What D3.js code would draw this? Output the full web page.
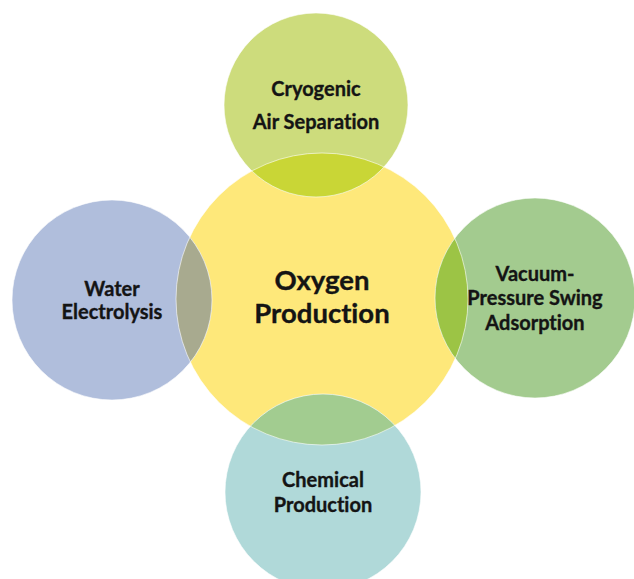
<!DOCTYPE html>
<html>
<head>
<meta charset="utf-8">
<script src="https://cdn.jsdelivr.net/npm/d3@7"></script>
<style>
  body { margin: 0; background: #fff; }
  svg { display: block; }
  .label { font-family: Lato, "Open Sans", sans-serif; font-weight: bold; fill: #141414;
           font-variant-ligatures: none; font-feature-settings: "liga" 0; }
</style>
</head>
<body>
<script>
// hub + spokes, offsets in px relative to the hub centre
var hubLabel = ["Oxygen", "Production"];
var hubRadius = 146;

var nodeLabels = [
  ["Cryogenic", "Air Separation"],
  ["Water", "Electrolysis"],
  ["Vacuum-", "Pressure Swing", "Adsorption"],
  ["Chemical", "Production"]
];
var nodeX = [-6, -210, 213, 1];
var nodeY = [-194, 1, -1, 193];
var nodeR = [92, 100, 100, 98];

var nodeFill = ["#cddc7c", "#b0bedc", "#a3cb8f", "#b0d9d9"];
var overlapFill = ["#c9d636", "#a8aa8f", "#9cc445", "#a2cc90"];
var hubFill = "#fee87a";
var lineGap = [33, 23, 24.5, 25];

var width = 634, height = 579;

var x = d3.scaleLinear().domain([-322, 312]).range([0, width]);
var y = d3.scaleLinear().domain([-299, 280]).range([0, height]);
var r = d3.scaleLinear().domain([0, 100]).range([0, 100]);

var nodes = nodeLabels.map(function (d, i) {
  return { lines: d, x: nodeX[i], y: nodeY[i], r: nodeR[i], fill: nodeFill[i], over: overlapFill[i], gap: lineGap[i] };
});

var svg = d3.select("body").append("svg")
  .attr("width", width)
  .attr("height", height);

var defs = svg.append("defs");
defs.append("clipPath").attr("id", "hubClip")
  .append("circle")
  .attr("cx", x(0)).attr("cy", y(0)).attr("r", r(hubRadius));

// hub
svg.append("circle")
  .attr("cx", x(0)).attr("cy", y(0)).attr("r", r(hubRadius))
  .attr("fill", hubFill);

// outer circles
svg.selectAll(".node")
  .data(nodes).enter()
  .append("circle")
  .attr("class", "node")
  .attr("cx", function (d) { return x(d.x); })
  .attr("cy", function (d) { return y(d.y); })
  .attr("r", function (d) { return r(d.r); })
  .attr("fill", function (d) { return d.fill; });

// overlap lenses
svg.append("g").attr("clip-path", "url(#hubClip)")
  .selectAll(".lens")
  .data(nodes).enter()
  .append("circle")
  .attr("class", "lens")
  .attr("cx", function (d) { return x(d.x); })
  .attr("cy", function (d) { return y(d.y); })
  .attr("r", function (d) { return r(d.r); })
  .attr("fill", function (d) { return d.over; });

// thin light edges
var edges = svg.append("g").attr("fill", "none")
  .attr("stroke", "#ffffff").attr("stroke-opacity", 0.6).attr("stroke-width", 1);
edges.append("circle")
  .attr("cx", x(0)).attr("cy", y(0)).attr("r", r(hubRadius));
edges.selectAll("circle.e")
  .data(nodes).enter()
  .append("circle")
  .attr("class", "e")
  .attr("cx", function (d) { return x(d.x); })
  .attr("cy", function (d) { return y(d.y); })
  .attr("r", function (d) { return r(d.r); });

function addLabel(lines, cx, cy, gap, size) {
  var t = svg.append("text")
    .attr("class", "label")
    .attr("text-anchor", "middle")
    .attr("font-size", size)
    .attr("stroke", "#141414")
    .attr("stroke-width", 0.35);
  var top = cy - (lines.length - 1) * gap / 2 + size * 0.36;
  lines.forEach(function (s, i) {
    t.append("tspan")
      .attr("x", cx)
      .attr("y", top + i * gap)
      .text(s);
  });
}

nodes.forEach(function (d) {
  addLabel(d.lines, x(d.x), y(d.y), d.gap, 20);
});
addLabel(hubLabel, x(0), y(0) - 2, 33, 27.5);
</script>
</body>
</html>
